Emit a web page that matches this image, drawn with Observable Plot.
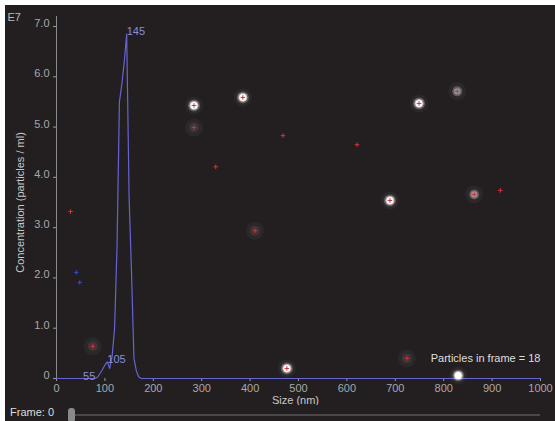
<!DOCTYPE html>
<html><head><meta charset="utf-8">
<script src="https://cdn.jsdelivr.net/npm/d3@7"></script>
<script src="https://cdn.jsdelivr.net/npm/@observablehq/plot@0.6"></script>
<style>
html,body{margin:0;padding:0;background:#fff;width:555px;height:421px;overflow:hidden}
#wrap{position:absolute;left:5px;top:5px;width:550px;height:416px;background:#231f20;font-family:"Liberation Sans",Arial,sans-serif}
#chart{position:absolute;left:0;top:0}
#frame{position:absolute;left:5px;top:402px;color:#dcdcdc;font-size:11px;line-height:11px}
#track{position:absolute;left:70px;top:409px;width:465px;height:2px;background:#4a4748}
#handle{position:absolute;left:63px;top:403px;width:7px;height:13px;background:#8a8a8a;border-radius:3px 3px 1px 1px}
</style></head>
<body>
<div id="wrap"><div id="chart"></div><div id="frame">Frame: 0</div><div id="track"></div><div id="handle"></div></div>
<script>
// Size distribution curve (nm, concentration E7 particles/ml)
const curveSize = [0, 55, 80, 85, 90, 95, 100, 105, 110, 115, 120, 125, 130, 135, 140, 145, 150, 155, 160, 165, 170, 175, 1000];
const curveConc = [0, 0, 0, 0.03, 0.1, 0.18, 0.27, 0.33, 0.2, 0.45, 1.0, 2.6, 5.5, 5.85, 6.3, 6.85, 3.6, 2.1, 0.4, 0.15, 0.03, 0, 0];
// Peak labels
const peakSize = [55, 105, 145];
const peakConc = [0, 0.33, 6.85];
// Particles visible in video frame (overlay)
const pSize = [29, 41, 48, 75, 284, 284, 329, 385, 410, 468, 476, 621, 689, 724, 749, 828, 830, 863, 917];
const pConc = [3.32, 2.11, 1.91, 0.64, 5.43, 4.99, 4.21, 5.59, 2.94, 4.83, 0.2, 4.65, 3.54, 0.4, 5.47, 5.71, 0.06, 3.66, 3.74];
const pKind = ["red","blue","blue","halo","bright","halo","red","bright","halo","red","bright","red","bright","halo","bright","medium","white","medium","red"];
// Ticks
const xTicks = [0, 100, 200, 300, 400, 500, 600, 700, 800, 900, 1000];
const yTicks = [0, 1, 2, 3, 4, 5, 6, 7];
const yTickLabels = ["0", "1.0", "2.0", "3.0", "4.0", "5.0", "6.0", "7.0"];

const curve = curveSize.map((s, i) => ({s, c: curveConc[i]}));
const peaks = peakSize.map((s, i) => ({s, c: peakConc[i], t: String(s)}));
const parts = pSize.map((s, i) => ({s, c: pConc[i], k: pKind[i]}));
const yt = yTicks.map((v, i) => ({v, t: yTickLabels[i]}));
const is = (...ks) => parts.filter(d => ks.includes(d.k));

const chart = Plot.plot({
  width: 550, height: 400,
  marginLeft: 51, marginRight: 15, marginTop: 21, marginBottom: 27,
  x: {domain: [0, 1000]},
  y: {domain: [0, 7]},
  style: {background: "transparent", fontFamily: "'Liberation Sans', Arial, sans-serif", fontSize: "11px", color: "#a8a8a8"},
  marks: [
    Plot.ruleX([0], {y1: 0, y2: 7.2, stroke: "#8a8a8a"}),
    Plot.axisY({ticks: yTicks, tickSize: 3, text: null, label: null, stroke: "#9a9a9a"}),
    Plot.text(yt, {y: "v", text: "t", frameAnchor: "left", dx: -7, dy: -3, textAnchor: "end", fill: "#a8a8a8"}),
    Plot.axisX({ticks: xTicks, tickSize: 3, tickPadding: 3, tickFormat: d => String(d), label: null, stroke: "#9a9a9a", fill: "#a8a8a8"}),
    Plot.text(["Size (nm)"], {frameAnchor: "bottom", dx: -3, dy: 25, fill: "#c8c8c8"}),
    Plot.text(["Concentration (particles / ml)"], {frameAnchor: "left", textAnchor: "middle", dx: -36, rotate: -90, fill: "#c8c8c8"}),
    Plot.text(["E7"], {frameAnchor: "top-left", dx: -49, dy: -13, textAnchor: "start", fill: "#bdbdbd"}),
    Plot.text(["Particles in frame = 18"], {frameAnchor: "bottom-right", dy: -17, textAnchor: "end", fill: "#dedede"}),
    Plot.line(curve, {x: "s", y: "c", stroke: "#6464d2", strokeWidth: 1.2}),
    Plot.text(peaks, {x: "s", y: "c", text: "t", textAnchor: "start", lineAnchor: "bottom", dy: 1, fill: "#8c8cdc"}),
    // particles
    Plot.dot(is("bright","medium","halo","white"), {x: "s", y: "c", r: 9, fill: "#9a9a9a", fillOpacity: 0.08}),
    Plot.dot(is("halo"), {x: "s", y: "c", r: 5, fill: "#8a8a8a", fillOpacity: 0.15}),
    Plot.dot(is("medium"), {x: "s", y: "c", r: 5, fill: "#a8a8a8", fillOpacity: 0.4}),
    Plot.dot(is("medium"), {x: "s", y: "c", r: 3.2, fill: "#c4c4c4", fillOpacity: 0.55}),
    Plot.dot(is("bright","white"), {x: "s", y: "c", r: 6, fill: "#ffffff", fillOpacity: 0.25}),
    Plot.dot(is("bright","white"), {x: "s", y: "c", r: 4.5, fill: "#ffffff", fillOpacity: 0.55}),
    Plot.dot(is("bright","white"), {x: "s", y: "c", r: 3.5, fill: "#ffffff", fillOpacity: 1}),
    Plot.dot(is("bright","medium","halo","red"), {x: "s", y: "c", r: 1.6, symbol: "plus", fill: "none", stroke: "#d8303a", strokeWidth: 1}),
    Plot.dot(is("blue"), {x: "s", y: "c", r: 1.5, symbol: "plus", fill: "none", stroke: "#3550c8", strokeWidth: 1})
  ]
});
document.getElementById("chart").appendChild(chart);
</script>
</body></html>
